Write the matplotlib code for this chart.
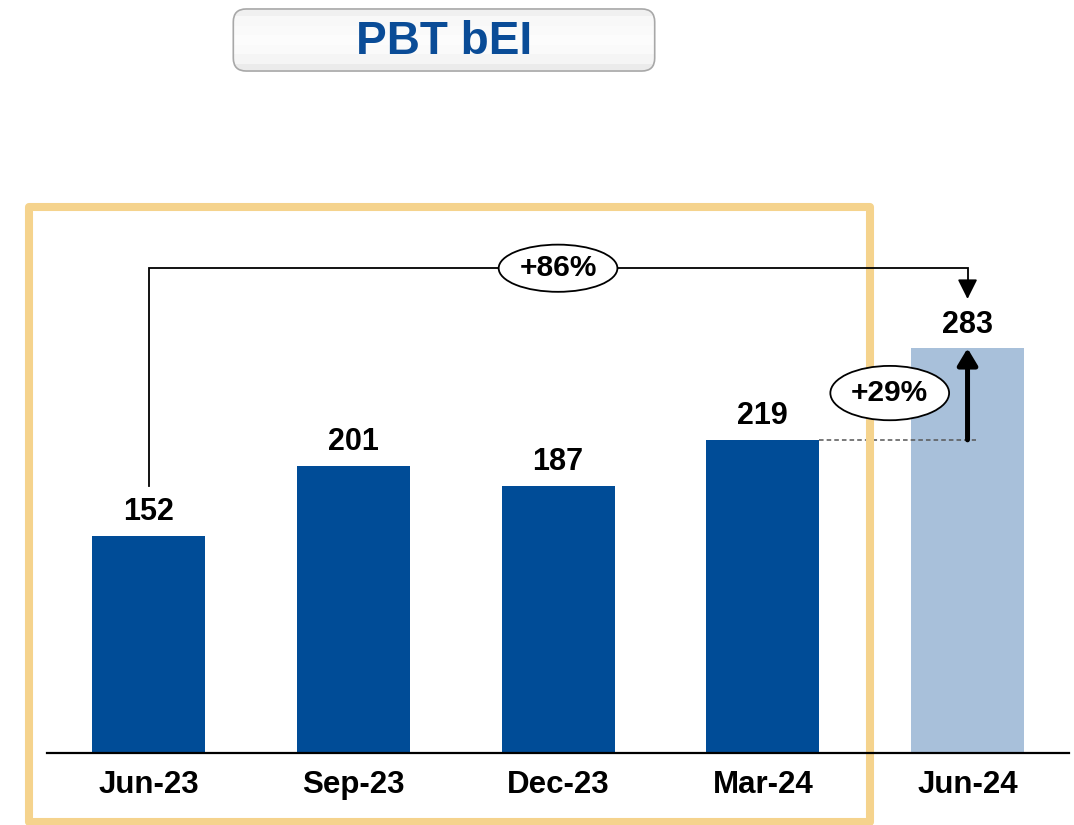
import matplotlib
matplotlib.use("Agg")
import matplotlib.pyplot as plt
import numpy as np
from matplotlib.patches import Rectangle, FancyBboxPatch, Ellipse

plt.rcParams['font.family'] = ['Liberation Sans', 'DejaVu Sans']

# data
periods = ["Jun-23", "Sep-23", "Dec-23", "Mar-24", "Jun-24"]
pbt = [152, 201, 187, 219, 283]
bar_colors = ["#004C97", "#004C97", "#004C97", "#004C97", "#A8C0DA"]
yoy_label = "+86%"
qoq_label = "+29%"

W, H = 1074, 825
fig = plt.figure(figsize=(W / 100, H / 100), dpi=100)

# main axes: baseline at y=753px, 1.43 px per unit
ax = fig.add_axes([47 / W, 1 - 753 / H, 1 - 47 / W, 753 / H])
ax.set_xlim(-0.496, 4.52)
ax.set_ylim(0, 753 / 1.43)
ax.axis("off")

x = np.arange(len(periods))
ax.bar(x, pbt, width=0.552, color=bar_colors, zorder=2)
ax.plot([-0.496, 4.495], [0, 0], color="black", lw=1.6, zorder=4,
        clip_on=False)

for xi, v, lab in zip(x, pbt, periods):
    ax.text(xi, v + 6, str(v), ha="center", va="bottom", fontsize=22,
            fontweight="bold", zorder=6)
    ax.text(xi, -22.5, lab, ha="center", va="center", fontsize=22.5,
            fontweight="bold", clip_on=False)

# +86% connector (Jun-23 -> Jun-24)
y_top = 339
ax.plot([x[0], x[0], x[4], x[4]], [pbt[0] + 35, y_top, y_top, y_top - 10],
        color="black", lw=1.3, zorder=4, solid_joinstyle="miter")
ax.annotate("", xy=(x[4], 317.5), xytext=(x[4], y_top - 9),
            arrowprops=dict(arrowstyle="-|>,head_length=0.6,head_width=0.3",
                            mutation_scale=20, lw=1.3, color="black",
                            shrinkA=0, shrinkB=0), zorder=4)
ax.add_patch(Ellipse((2.0, y_top), 0.58, 33, facecolor="white",
                     edgecolor="black", lw=1.3, zorder=5))
ax.text(2.0, y_top, yoy_label, ha="center", va="center", fontsize=21.5,
        fontweight="bold", zorder=6)

# +29% (Mar-24 -> Jun-24)
ax.plot([x[3] + 0.276, x[4] + 0.04], [pbt[3], pbt[3]], color="#555555",
        lw=1.1, ls=(0, (3, 2)), zorder=3)
ax.annotate("", xy=(x[4], pbt[4]), xytext=(x[4], pbt[3]),
            arrowprops=dict(arrowstyle="-|>,head_length=0.5,head_width=0.3",
                            mutation_scale=20, lw=3.6, color="black",
                            shrinkA=0, shrinkB=0), zorder=4)
ax.add_patch(Ellipse((3.62, 251.7), 0.58, 38, facecolor="white",
                     edgecolor="black", lw=1.3, zorder=5))
ax.text(3.62, 251.7, qoq_label, ha="center", va="center", fontsize=21.5,
        fontweight="bold", zorder=6)

# gold frame around the first four periods
ax.add_patch(Rectangle((29 / W, 1 - 822 / H), (870 - 29) / W,
                       (822 - 207) / H, transform=fig.transFigure,
                       fill=False, edgecolor="#F5D38D", lw=5.8,
                       joinstyle="round", clip_on=False, zorder=3.5))

# title box
tx0, ty0, tx1, ty1 = 229, 7, 659, 73
tax = fig.add_axes([tx0 / W, 1 - ty1 / H, (tx1 - tx0) / W, (ty1 - ty0) / H])
tax.set_xlim(0, 1)
tax.set_ylim(0, 1)
tax.axis("off")
box = FancyBboxPatch((0.01, 0.03), 0.98, 0.94,
                     boxstyle="round,pad=0,rounding_size=0.03",
                     mutation_aspect=(tx1 - tx0) / (ty1 - ty0),
                     facecolor="none", edgecolor="#A8A8A8", lw=1.2,
                     zorder=3)
tax.add_patch(box)
grad = np.array([0.92, 0.96, 0.98, 0.985, 0.98, 0.97, 0.94])[:, None]
img = tax.imshow(grad, cmap="gray", vmin=0, vmax=1, extent=(0, 1, 0, 1),
                 aspect="auto", origin="lower", zorder=1)
img.set_clip_path(box)
tax.text(0.5, 0.47, "PBT bEI", ha="center", va="center", fontsize=33,
         fontweight="bold", color="#0A4C97", zorder=4)

fig.savefig("out.png", dpi=100)
